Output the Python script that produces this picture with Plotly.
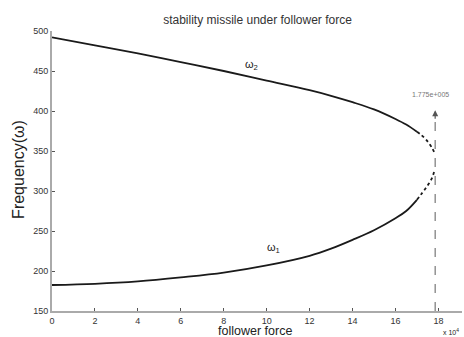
import plotly.graph_objects as go

# follower force (units of 1e4) and frequencies
force = [0, 2, 4, 6, 8, 10, 12, 13, 14, 15, 16, 16.5, 17.0]
omega2 = [492, 482, 472, 461, 450, 438, 426, 419, 411, 402, 390, 383, 374]
omega1 = [182.5, 184, 187, 192, 198, 207, 219, 228, 239, 251, 266, 275, 289]

force_end = [17.0, 17.2, 17.4, 17.55, 17.7, 17.8]
omega2_end = [374, 370, 365, 360, 354, 349]
omega1_end = [289, 296, 303, 309, 316, 324]

flutter_x = 17.85
flutter_top = 401
flutter_text = "1.775e+005"

x_ticks = [0, 2, 4, 6, 8, 10, 12, 14, 16, 18]
y_ticks = [150, 200, 250, 300, 350, 400, 450, 500]

fig = go.Figure()
curve = dict(color="#1a1a1a", width=1.8)
fig.add_trace(go.Scatter(x=force, y=omega2, mode="lines", line=curve, line_shape="spline"))
fig.add_trace(go.Scatter(x=force, y=omega1, mode="lines", line=curve, line_shape="spline"))
fig.add_trace(go.Scatter(x=force_end, y=omega2_end, mode="lines",
                         line=dict(color="#1a1a1a", width=1.8, dash="dot"), line_shape="spline"))
fig.add_trace(go.Scatter(x=force_end, y=omega1_end, mode="lines",
                         line=dict(color="#1a1a1a", width=1.8, dash="dot"), line_shape="spline"))

fig.add_shape(type="line", x0=flutter_x, x1=flutter_x, y0=150, y1=flutter_top - 3,
              line=dict(color="#777", width=1.2, dash="dash"))
fig.add_annotation(x=flutter_x, y=flutter_top, ax=0, ay=10, showarrow=True,
                   arrowhead=2, arrowsize=1, arrowwidth=1.2, arrowcolor="#555", text="")
fig.add_annotation(x=17.65, y=421, text=flutter_text, showarrow=False,
                   font=dict(size=7, color="#777", family="Arial"))

fig.add_annotation(x=9.3, y=457, text="ω<sub>2</sub>", showarrow=False,
                   font=dict(size=11, color="#222", family="Arial"))
fig.add_annotation(x=10.3, y=229, text="ω<sub>1</sub>", showarrow=False,
                   font=dict(size=11, color="#222", family="Arial"))

fig.add_annotation(xref="paper", yref="paper", x=0, y=0.504, xshift=-33,
                   xanchor="center", yanchor="middle",
                   text="Frequency(ω)", textangle=-90, showarrow=False,
                   font=dict(size=16, color="#222", family="Arial"))
fig.add_annotation(xref="paper", yref="paper", x=0.495, y=0, yshift=-20,
                   xanchor="center", yanchor="middle", borderpad=0,
                   text="follower force", showarrow=False,
                   font=dict(size=12.5, color="#222", family="Arial"))
fig.add_annotation(xref="paper", yref="paper", x=0.973, y=0, yshift=-21,
                   xanchor="center", yanchor="middle",
                   text="x 10<sup>4</sup>", showarrow=False,
                   font=dict(size=7, color="#222", family="Arial"))

axis_common = dict(showgrid=False, zeroline=False, showline=True, linecolor="#aaa",
                   linewidth=2, ticks="inside", ticklen=3, tickcolor="#555",
                   tickfont=dict(size=9, color="#333", family="Arial"), mirror=False)
fig.update_xaxes(range=[0, 19.1], tickvals=x_ticks, **axis_common)
fig.update_yaxes(range=[150, 500], tickvals=y_ticks, **axis_common)

fig.update_layout(
    width=464, height=337,
    margin=dict(l=52, r=2, t=31, b=26),
    paper_bgcolor="white", plot_bgcolor="white",
    showlegend=False,
    title=dict(text="stability missile under follower force", x=0.555, xanchor="center",
               y=1 - 20 / 337, yanchor="middle", yref="container",
               font=dict(size=12, color="#333", family="Arial")),
)
fig.write_html("out.html")
